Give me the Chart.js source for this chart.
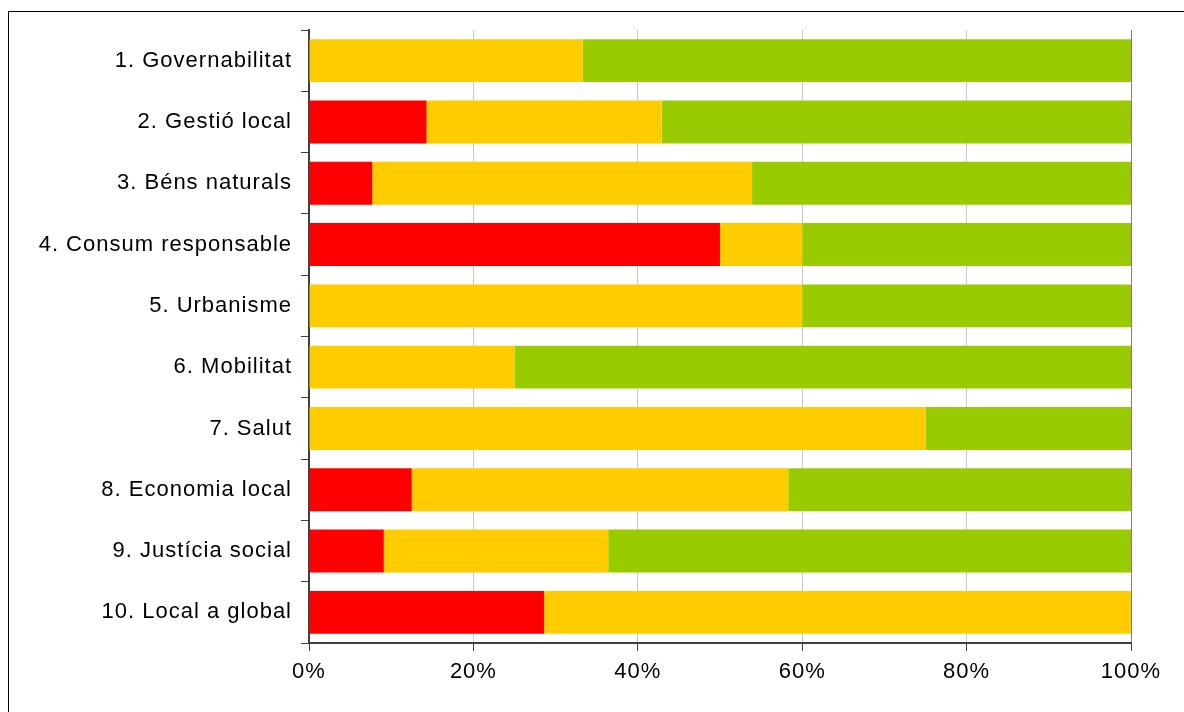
<!DOCTYPE html>
<html>
<head>
<meta charset="utf-8">
<script src="https://cdn.jsdelivr.net/npm/chart.js@4.4.0/dist/chart.umd.min.js"></script>
<style>
  html, body { margin: 0; padding: 0; background: #fff; overflow: hidden; }
  #frame { position: absolute; left: 8px; top: 11px; width: 1200px; height: 720px; border: 1px solid #000; box-sizing: border-box; }
  #wrap { position: absolute; left: 0; top: 0; width: 1184px; height: 712px; }
</style>
</head>
<body>
<div id="frame"></div>
<div id="wrap"><canvas id="chart"></canvas></div>
<script>
var categories = ['1. Governabilitat', '2. Gestió local', '3. Béns naturals', '4. Consum responsable',
                  '5. Urbanisme', '6. Mobilitat', '7. Salut', '8. Economia local',
                  '9. Justícia social', '10. Local a global'];

// percentages per category
var redValues    = [0,    14.3, 7.7,  50, 0,  0,  0,  12.5, 9.1,  28.6];
var yellowValues = [33.3, 28.6, 46.2, 10, 60, 25, 75, 45.8, 27.3, 71.4];
var greenValues  = [66.7, 57.1, 46.1, 40, 40, 75, 25, 41.7, 63.6, 0];

var xTicks = [0, 20, 40, 60, 80, 100];

var red = '#ff0000';
var yellow = '#ffcc00';
var green = '#99cc00';

var fontDef = { family: '"Liberation Sans", Arial, sans-serif', size: 22 };

Chart.defaults.font = fontDef;
Chart.defaults.color = '#000';

// the original labels are a bit spread out
var spacing = {
  id: 'spacing',
  beforeUpdate: function (chart) { chart.ctx.letterSpacing = '1px'; },
  beforeDraw: function (chart) { chart.ctx.letterSpacing = '1px'; }
};

new Chart(document.getElementById('chart'), {
  type: 'bar',
  data: {
    labels: categories,
    datasets: [
      { data: redValues, backgroundColor: red },
      { data: yellowValues, backgroundColor: yellow },
      { data: greenValues, backgroundColor: green }
    ]
  },
  plugins: [spacing],
  options: {
    indexAxis: 'y',
    responsive: true,
    maintainAspectRatio: false,
    animation: false,
    layout: { padding: { top: 30, right: 53, left: 0, bottom: 0 } },
    plugins: { legend: { display: false }, tooltip: { enabled: false } },
    datasets: { bar: { barPercentage: 0.7, categoryPercentage: 1 } },
    scales: {
      x: {
        stacked: true,
        min: 0,
        max: 100,
        afterBuildTicks: function (scale) {
          scale.ticks = xTicks.map(function (v) { return { value: v }; });
        },
        afterFit: function (scale) { scale.height = 69; },
        ticks: {
          padding: 8,
          callback: function (v) { return v + '%'; }
        },
        grid: {
          color: function (ctx) { return ctx.tick && ctx.tick.value === 100 ? '#808080' : '#c8c8c8'; },
          tickColor: '#404040',
          tickLength: 8,
          lineWidth: 1
        },
        border: { color: '#404040', width: 2 }
      },
      y: {
        stacked: true,
        afterFit: function (scale) { scale.width = 309; },
        ticks: { padding: 9, autoSkip: false },
        grid: {
          drawOnChartArea: false,
          tickColor: '#404040',
          tickLength: 8,
          offset: true
        },
        border: { color: '#404040', width: 2 }
      }
    }
  }
});
</script>
</body>
</html>
